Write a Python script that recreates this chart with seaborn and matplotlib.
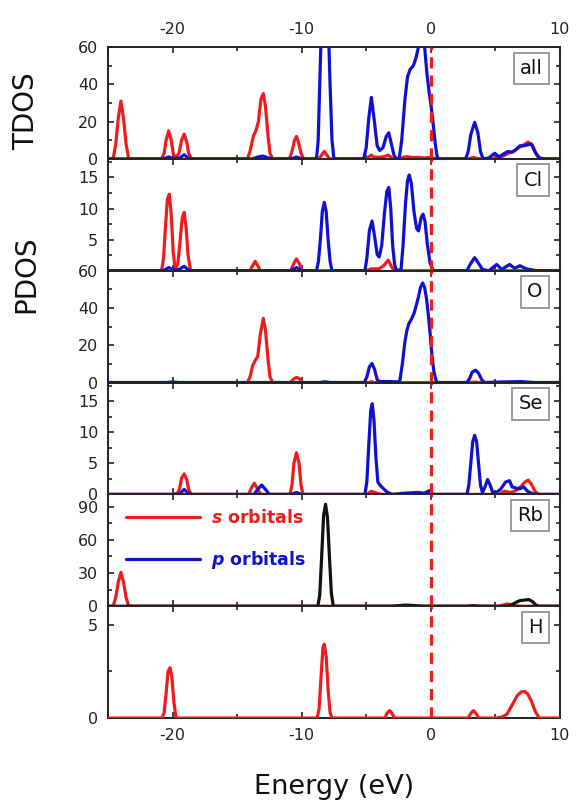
import numpy as np
import matplotlib
matplotlib.use("Agg")
import matplotlib.pyplot as plt
from matplotlib.lines import Line2D
from matplotlib.ticker import MultipleLocator
import seaborn as sns

# energy range and panel names
x_range = (-25, 10)
panel_names = ["all", "Cl", "O", "Se", "Rb", "H"]

# TDOS (all) s and p
all_s_e = [-25, -24.6, -24.4, -24.2, -24.0, -23.8, -23.6, -23.4,
           -20.85, -20.65, -20.5, -20.3, -20.1, -19.95, -19.8, -19.5, -19.3, -19.1, -18.9, -18.75, -18.55,
           -14.2, -14.0, -13.75, -13.55, -13.35, -13.15, -12.97, -12.8, -12.6, -12.45, -12.25,
           -10.95, -10.75, -10.55, -10.4, -10.25, -10.05, -9.85,
           -8.65, -8.45, -8.25, -8.05, -7.85,
           -5.0, -4.8, -4.6, -4.4, -4.0, -3.6, -3.3, -3.0, -2.7, -2.3, -1.9, -1.5, -1.0, -0.5, -0.1, 0.3, 0.6,
           2.9, 3.3, 3.7, 4.8, 5.2, 5.6, 6.0, 6.4, 6.8, 7.2, 7.55, 7.9, 8.2, 8.5, 10]
all_s_d = [0, 0, 8, 22, 31, 22, 8, 0,
           0, 3, 10, 15, 10, 3, 0.3, 3, 10, 13.3, 9, 3, 0,
           0, 4, 12, 15, 20, 32, 35, 28, 12, 3, 0,
           0, 4, 10, 12, 9, 3, 0,
           0, 2, 4, 2, 0,
           0, 1, 2, 1, 0.8, 1.2, 2, 0.5, 0, 0.5, 1.2, 0.8, 0.8, 0.5, 0.8, 0.3, 0,
           0, 0.8, 0, 0, 1, 1.5, 3, 4, 6, 7.5, 9, 7, 2, 0, 0]

all_p_e = [-25, -20.7, -20.3, -19.9, -19.5, -19.1, -18.7,
           -13.8, -13.4, -13.0, -12.6, -12.3, -10.8, -10.4, -10.0,
           -8.85, -8.72, -8.6, -8.45, -8.2, -7.95, -7.8, -7.65, -7.5,
           -5.2, -5.0, -4.8, -4.6, -4.4, -4.15, -3.95, -3.7, -3.45, -3.25, -3.05, -2.85, -2.65,
           -2.45, -2.25, -2.0, -1.8, -1.6, -1.35, -1.15, -0.95, -0.75, -0.5, -0.3, -0.15, 0.05, 0.2, 0.35, 0.5, 0.65,
           2.7, 2.9, 3.1, 3.4, 3.65, 3.85, 4.05, 4.5, 4.95, 5.3, 5.6, 6.0, 6.3, 6.6, 6.9, 7.2, 7.5, 7.8, 8.05, 8.4, 8.8, 10]
all_p_d = [0, 0, 1, 0.2, 0.3, 2.2, 0,
           0, 1, 1.5, 0.5, 0, 0, 1, 0,
           0, 10, 40, 75, 100, 75, 40, 10, 0,
           0, 6, 22, 33, 22, 7, 4.5, 6, 12, 14, 8, 2, 0,
           0, 10, 32, 44, 48, 50, 54, 60, 64, 62, 46, 37, 27, 18, 8, 1, 0,
           0, 4, 13, 19.6, 14, 4, 0, 0.5, 3, 1, 2.5, 4, 3.5, 5, 7, 7, 7.5, 8, 4, 0.5, 0, 0]

# Cl s and p
cl_s_e = [-25, -20.85, -20.7, -20.55, -20.4, -20.25, -20.1, -19.95, -19.8, -19.6, -19.45, -19.25, -19.1,
          -18.95, -18.8, -18.6, -14.0, -13.8, -13.6, -13.4, -13.2, -10.85, -10.6, -10.4, -10.2, -9.95,
          -5.0, -4.6, -4.0, -3.6, -3.3, -3.0, -2.75, 10]
cl_s_d = [0, 0, 2, 7, 11.5, 12.3, 9, 3, 0.3, 1, 4, 8.5, 9.4,
          7, 2.5, 0, 0, 0.8, 1.5, 0.8, 0, 0, 1.2, 1.9, 1.2, 0,
          0, 0.3, 0.3, 0.9, 1.7, 0.5, 0, 0]

cl_p_e = [-25, -20.7, -20.3, -19.9, -19.5, -19.1, -18.7, -10.8, -10.4, -10.0,
          -8.85, -8.7, -8.55, -8.4, -8.25, -8.1, -7.95, -7.8, -7.65,
          -5.1, -4.95, -4.75, -4.55, -4.35, -4.15, -4.0, -3.8, -3.6, -3.4, -3.25, -3.1, -2.95, -2.8, -2.65,
          -2.3, -2.15, -1.95, -1.8, -1.67, -1.5, -1.3, -1.1, -0.95, -0.75, -0.6, -0.45, -0.25, -0.05, 0.2,
          2.8, 3.1, 3.4, 3.7, 4.0, 4.5, 5.1, 5.5, 6.1, 6.5, 6.9, 7.4, 8.2, 10]
cl_p_d = [0, 0, 0.5, 0.1, 0.2, 0.7, 0, 0, 0.5, 0,
          0, 1.5, 5, 9.5, 11, 9.5, 5, 1.5, 0,
          0, 2, 6.5, 8, 5.5, 2.6, 2.2, 4, 9, 12.8, 13.4, 10, 4, 1, 0,
          0.2, 4, 11, 14.5, 15.4, 14, 9.5, 6.8, 6.4, 8.5, 9.1, 8, 4, 1.2, 0,
          0, 1.2, 2.1, 1.2, 0.2, 0, 1.0, 0.2, 1.0, 0.4, 0.8, 0.3, 0, 0]

# O s and p
o_s_e = [-25, -14.2, -14.0, -13.8, -13.6, -13.4, -13.2, -12.97, -12.8, -12.6, -12.45, -12.25,
         -10.9, -10.6, -10.4, -10.2, -9.9, -4.8, -4.6, -4.4, 3.1, 3.4, 3.7, 10]
o_s_d = [0, 0, 3, 9, 11.8, 14, 26, 34.4, 28, 12, 3, 0,
         0, 2, 2.7, 2.2, 0, 0, 0.5, 0, 0, 0.3, 0, 0]

o_p_e = [-25, -20.5, -20.0, -19.5, -8.6, -8.2, -7.8,
         -5.15, -4.95, -4.75, -4.55, -4.35, -4.15, -3.95, -3.0, -2.6,
         -2.4, -2.2, -2.0, -1.85, -1.7, -1.5, -1.3, -1.1, -0.95, -0.8, -0.63, -0.48, -0.33, -0.2, -0.07, 0.1, 0.24, 0.45,
         2.8, 3.0, 3.2, 3.47, 3.7, 3.95, 4.15, 5.5, 7.0, 8.0, 10]
o_p_d = [0, 0, 0.3, 0, 0, 0.4, 0,
         0, 3, 8.5, 10.2, 7, 1.5, 0.5, 0.5, 0.3,
         0.8, 10, 22, 28, 31.5, 34, 37, 42, 46, 51, 53.4, 51, 45, 37, 28, 14, 6, 0,
         0, 2, 5.5, 6.6, 5, 1.5, 0, 0.3, 0.5, 0, 0]

# Se s and p
se_s_e = [-25, -20.0, -19.6, -19.45, -19.3, -19.1, -18.9, -18.75, -18.55,
          -14.1, -13.9, -13.67, -13.45, -13.25, -13.0,
          -10.9, -10.75, -10.6, -10.4, -10.2, -10.05, -9.9,
          -4.95, -4.6, -4.2, -3.8, -0.4, -0.1, 0.2,
          5.3, 5.7, 6.2, 6.6, 7.0, 7.3, 7.55, 7.8, 8.1, 8.4, 10]
se_s_d = [0, 0, 0.2, 1, 2.6, 3.3, 2.4, 0.8, 0,
          0, 1, 1.8, 1, 0.2, 0,
          0, 1.5, 5, 6.7, 5, 1.5, 0,
          0, 0.5, 0.2, 0, 0, 0.2, 0,
          0, 0.5, 0.3, 0.6, 1.3, 2.0, 2.3, 1.6, 0.4, 0, 0]

se_p_e = [-25, -19.5, -19.1, -18.7, -13.7, -13.4, -13.1, -12.8, -12.5, -10.8, -10.4, -10.0,
          -5.1, -4.95, -4.8, -4.65, -4.53, -4.4, -4.25, -4.1, -3.94, -3.7, -3.4, -3.0,
          -2.0, -1.0, -0.5, -0.12, 0.2,
          2.8, 2.95, 3.1, 3.25, 3.4, 3.55, 3.7, 3.85, 4.0, 4.2, 4.4, 4.6, 4.8, 5.0,
          5.4, 5.8, 6.1, 6.3, 6.6, 6.9, 7.2, 7.5, 7.9, 8.3, 10]
se_p_d = [0, 0, 0.8, 0, 0, 0.8, 1.5, 0.8, 0, 0, 0.3, 0,
          0, 2, 8, 13.5, 14.6, 12, 6, 2, 1.5, 1.0, 0.4, 0,
          0.2, 0.3, 0.2, 0.6, 0,
          0, 1.5, 5, 8.5, 9.5, 8.5, 5, 1.5, 0.3, 1.2, 2.4, 1.5, 0.3, 0.2,
          0.8, 2.0, 2.2, 1.2, 1.0, 0.9, 1.2, 0.5, 0.1, 0, 0]

# Rb s and total
rb_s_e = [-25, -24.6, -24.4, -24.2, -24.0, -23.8, -23.6, -23.4,
          5.3, 5.6, 5.9, 6.2, 6.5, 7.0, 10]
rb_s_d = [0, 0, 8, 22, 30.6, 22, 8, 0,
          0, 1, 2, 1.5, 0.5, 0, 0]

rb_t_e = [-25, -8.75, -8.6, -8.45, -8.3, -8.15, -8.0, -7.85, -7.7, -7.55,
          -3.0, -2.5, -2.0, -1.5, -1.0, -0.5, 2.8, 3.3, 3.8,
          6.0, 6.3, 6.6, 6.9, 7.2, 7.6, 7.9, 8.15, 8.4, 10]
rb_t_d = [0, 0, 10, 45, 82, 92, 80, 45, 12, 0,
          0, 0.5, 1, 0.8, 0.3, 0, 0, 0.5, 0,
          0, 1.5, 3.5, 5, 5.5, 6, 4, 1, 0, 0]

# H s
h_s_e = [-25, -20.8, -20.65, -20.5, -20.35, -20.2, -20.05, -19.9, -19.75, -19.6,
         -8.8, -8.65, -8.5, -8.35, -8.25, -8.1, -7.95, -7.8, -7.65,
         -3.55, -3.4, -3.2, -3.0, -2.8, 2.9, 3.1, 3.3, 3.5, 3.7,
         5.0, 5.5, 5.9, 6.3, 6.7, 7.0, 7.25, 7.5, 7.8, 8.1, 8.4, 10]
h_s_d = [0, 0, 0.3, 1.3, 2.5, 2.7, 2.2, 0.9, 0.1, 0,
         0, 0.5, 2.2, 3.8, 3.96, 3.3, 1.5, 0.3, 0,
         0, 0.25, 0.4, 0.25, 0, 0, 0.25, 0.4, 0.25, 0,
         0, 0.05, 0.2, 0.7, 1.2, 1.4, 1.43, 1.3, 0.9, 0.35, 0, 0]

# per panel y settings
y_limits = [(0, 60), (0, 18), (0, 60), (0, 18), (0, 101), (0, 6)]
y_major = [[0, 20, 40, 60], [0, 5, 10, 15], [0, 20, 40, 60], [0, 5, 10, 15], [0, 30, 60, 90], [0, 5]]
y_labels = [["0", "20", "40", "60"], ["", "5", "10", "15"], ["0", "20", "40", "60"],
            ["0", "5", "10", "15"], ["0", "30", "60", "90"], ["0", "5"]]
y_minor = [10, 2.5, 10, 2.5, 15, 2.5]

RED = "#ee1c1c"
BLUE = "#1010d0"
BLACK = "#111111"

sns.set_style("ticks")
plt.rcParams["font.family"] = ["DejaVu Sans"]
plt.rcParams["axes.unicode_minus"] = False
plt.rcParams["axes.linewidth"] = 1.4
plt.rcParams["mathtext.fontset"] = "dejavusans"

fig, axes = plt.subplots(6, 1, figsize=(5.76, 8.05), dpi=100, sharex=True,
                         gridspec_kw={"hspace": 0})
fig.subplots_adjust(left=0.1875, right=0.972, top=0.9416, bottom=0.108)

curves = [
    [(all_s_e, all_s_d, RED), (all_p_e, all_p_d, BLUE)],
    [(cl_s_e, cl_s_d, RED), (cl_p_e, cl_p_d, BLUE)],
    [(o_s_e, o_s_d, RED), (o_p_e, o_p_d, BLUE)],
    [(se_s_e, se_s_d, RED), (se_p_e, se_p_d, BLUE)],
    [(rb_s_e, rb_s_d, RED), (rb_t_e, rb_t_d, BLACK)],
    [(h_s_e, h_s_d, RED)],
]

for i, ax in enumerate(axes):
    for e, d, c in curves[i]:
        sns.lineplot(x=e, y=d, ax=ax, color=c, lw=2.3, sort=False, estimator=None,
                     zorder=3, solid_joinstyle="round")
    ax.axvline(0, color=RED, lw=2.3, ls=(0, (3.5, 2.2)), zorder=4)
    ax.set_xlim(*x_range)
    ax.set_ylim(*y_limits[i])
    ax.set_yticks(y_major[i])
    ax.set_yticklabels(y_labels[i])
    ax.yaxis.set_minor_locator(MultipleLocator(y_minor[i]))
    ax.xaxis.set_major_locator(MultipleLocator(10))
    ax.xaxis.set_minor_locator(MultipleLocator(5))
    ax.tick_params(which="both", direction="in", top=True, right=True, width=1.2,
                   labelsize=11.5, pad=7, colors="#222222")
    ax.tick_params(which="major", length=4.5)
    ax.tick_params(which="minor", length=2.6)
    ax.tick_params(axis="x", labelbottom=(i == 5), labeltop=(i == 0))
    for s in ax.spines.values():
        s.set_color("#222222")
    ax.text(0.962, 0.895, panel_names[i], transform=ax.transAxes, ha="right", va="top",
            fontsize=14, color="#111111", zorder=6,
            bbox=dict(boxstyle="square,pad=0.32", fc="white", ec="#8a8a8a", lw=1.2))

# legend in the Rb panel
handles = [Line2D([], [], color=RED, lw=2.3), Line2D([], [], color=BLUE, lw=2.3)]
leg = axes[4].legend(handles, [r"$\mathbfit{s}$ orbitals", r"$\mathbfit{p}$ orbitals"],
                     loc="upper left", bbox_to_anchor=(0.012, 0.98), frameon=False,
                     handlelength=4.3, handletextpad=0.6, labelspacing=1.3,
                     borderaxespad=0.3, prop={"size": 12.5, "weight": "bold"})
for t, c in zip(leg.get_texts(), [RED, BLUE]):
    t.set_color(c)

fig.text(26 / 576, 1 - 111 / 805, "TDOS", rotation=90, ha="center", va="center", fontsize=20, color="#111111")
fig.text(26 / 576, 1 - 274 / 805, "PDOS", rotation=90, ha="center", va="center", fontsize=20, color="#111111")
fig.text(334 / 576, 1 - 787 / 805, "Energy (eV)", ha="center", va="center", fontsize=19.5, color="#111111")

fig.savefig("out.png", dpi=100, facecolor="white")
